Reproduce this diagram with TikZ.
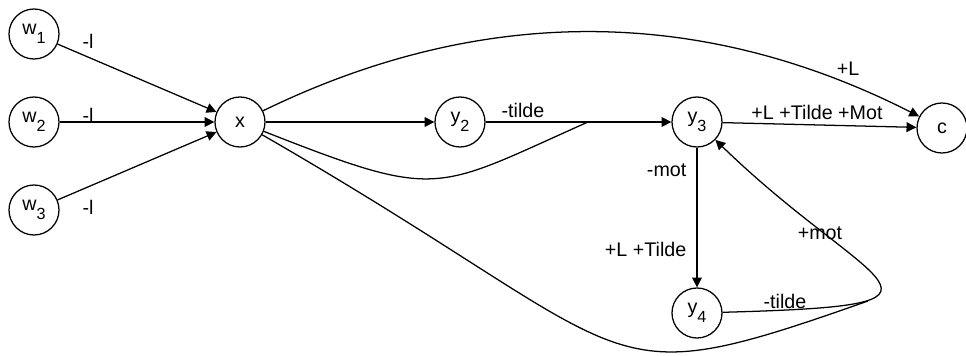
\documentclass[tikz,border=0pt]{standalone}
\usepackage{fontspec}
\setmainfont{Liberation Sans}
\usetikzlibrary{arrows.meta}
\newcommand{\nsub}[1]{\raisebox{-0.45em}{\fontsize{11.5}{12}\selectfont #1}}

\begin{document}
\begin{tikzpicture}[
  state/.style={circle, draw, line width=0.9pt, minimum size=1.25cm, inner sep=0pt, font=\fontsize{14}{16}\selectfont},
  lbl/.style={font=\fontsize{14}{16}\selectfont, inner sep=1pt},
  edge/.style={line width=0.9pt, -{Triangle[length=7pt, width=7pt]}},
  link/.style={line width=0.9pt}
]
\useasboundingbox (0,0) rectangle (24.15,-8.9);

% States
\node[state] (w1) at (0.85, -0.85) {w\nsub{1}};
\node[state] (w2) at (0.85, -3.05) {w\nsub{2}};
\node[state] (w3) at (0.85, -5.25) {w\nsub{3}};
\node[state] (x) at (6.0, -3.05) {x};
\node[state] (y2) at (11.5, -3.05) {y\nsub{2}};
\node[state] (y3) at (17.425, -3.05) {y\nsub{3}};
\node[state] (c) at (23.55, -3.2) {c};
\node[state] (y4) at (17.425, -7.825) {y\nsub{4}};

% Straight transitions
\draw[edge] (w1) -- (x);
\draw[edge] (w2) -- (x);
\draw[edge] (w3) -- (x);
\draw[edge] (x) -- (y2);
\draw[edge] (y2) -- (y3);
\draw[edge] (y3) -- (c);
\draw[edge] (y3) -- (y4);

% Curved transitions
\draw[edge] (x) .. controls (11.75, -0.25) and (17.25, 0.0) .. (c);
\draw[edge] (y4) .. controls (24.75, -7.625) and (21.75, -7.25) .. (y3);
\coordinate (j1) at (14.7, -3.05);
\draw[link] (x) .. controls (11.025, -5.025) and (10.825, -4.775) .. (j1);
\coordinate (j2) at (21.7, -7.525);
\draw[link] (x) .. controls (16.325, -9.0) and (14.675, -10.0) .. (j2);

% Labels
\node[lbl] (lw1) at (2.2, -1.025) {-l};
\node[lbl] (lw2) at (2.2, -2.875) {-l};
\node[lbl] (lw3) at (2.2, -5.175) {-l};
\node[lbl] (ly2) at (13.075, -2.75) {-tilde};
\node[lbl] (lxc) at (21.2, -1.72) {+L};
\node[lbl] (ly3c) at (20.425, -2.8) {+L +Tilde +Mot};
\node[lbl, anchor=east] (ly3a) at (17.2, -4.25) {-mot};
\node[lbl, anchor=east] (ly3b) at (17.2, -6.225) {+L +Tilde};
\node[lbl] (ly4) at (19.625, -7.525) {-tilde};
\node[lbl] (ly4b) at (20.5, -5.825) {+mot};

\end{tikzpicture}
\end{document}
